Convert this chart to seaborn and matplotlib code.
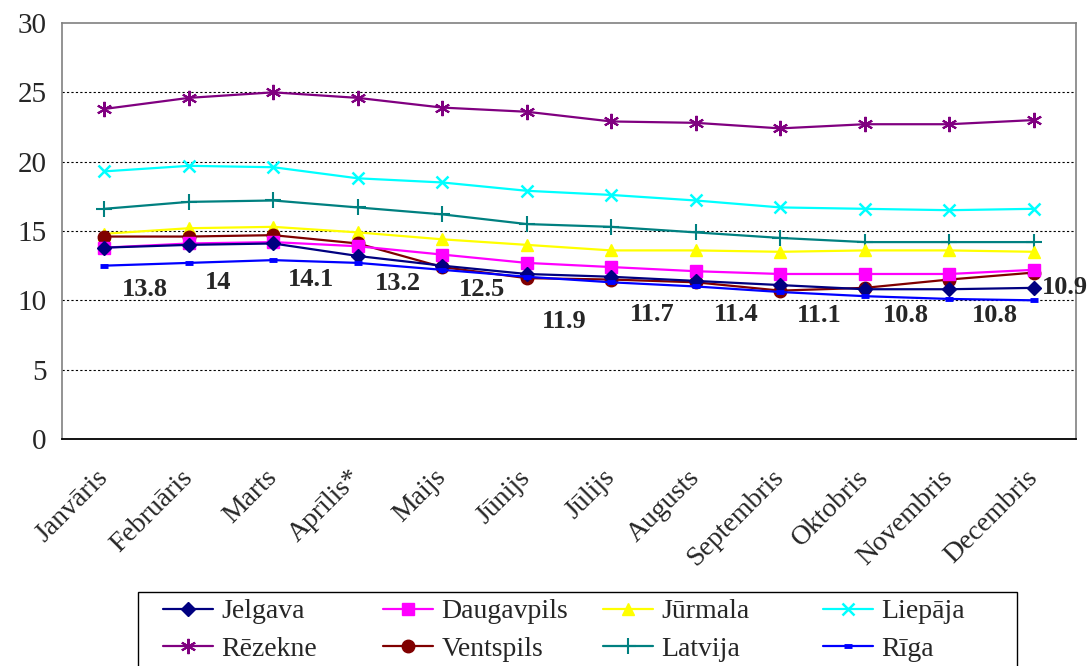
import numpy as np
import pandas as pd
import matplotlib
matplotlib.use("Agg")
import matplotlib.pyplot as plt
import matplotlib.transforms as mtransforms
from matplotlib.patches import Rectangle
import seaborn as sns

months = ["Janvāris", "Februāris", "Marts", "Aprīlis*", "Maijs", "Jūnijs",
          "Jūlijs", "Augusts", "Septembris", "Oktobris", "Novembris", "Decembris"]

jelgava    = [13.8, 14.0, 14.1, 13.2, 12.5, 11.9, 11.7, 11.4, 11.1, 10.8, 10.8, 10.9]
daugavpils = [13.8, 14.1, 14.2, 13.9, 13.3, 12.7, 12.4, 12.1, 11.9, 11.9, 11.9, 12.2]
jurmala    = [14.8, 15.2, 15.3, 14.9, 14.4, 14.0, 13.6, 13.6, 13.5, 13.6, 13.6, 13.5]
liepaja    = [19.3, 19.7, 19.6, 18.8, 18.5, 17.9, 17.6, 17.2, 16.7, 16.6, 16.5, 16.6]
rezekne    = [23.8, 24.6, 25.0, 24.6, 23.9, 23.6, 22.9, 22.8, 22.4, 22.7, 22.7, 23.0]
ventspils  = [14.6, 14.6, 14.7, 14.1, 12.4, 11.6, 11.5, 11.3, 10.7, 10.9, 11.5, 12.0]
latvija    = [16.6, 17.1, 17.2, 16.7, 16.2, 15.5, 15.3, 14.9, 14.5, 14.2, 14.2, 14.2]
riga       = [12.5, 12.7, 12.9, 12.7, 12.2, 11.7, 11.3, 11.0, 10.6, 10.3, 10.1, 10.0]

series_names = ["Jelgava", "Daugavpils", "Jūrmala", "Liepāja",
                "Rēzekne", "Ventspils", "Latvija", "Rīga"]
series_values = [jelgava, daugavpils, jurmala, liepaja, rezekne, ventspils, latvija, riga]

# styling (not data)
styles = {
    "Jelgava":    dict(color="#000080", marker="D", ms=7),
    "Daugavpils": dict(color="#FF00FF", marker="s", ms=8),
    "Jūrmala":    dict(color="#FFFF00", marker="^", ms=9),
    "Liepāja":    dict(color="#00FFFF", marker="x", ms=9, mew=1.8),
    "Rēzekne":    dict(color="#800080", marker=(6, 2, 0), ms=11, mew=1.5),
    "Ventspils":  dict(color="#800000", marker="o", ms=9),
    "Latvija":    dict(color="#008080", marker="+", ms=11, mew=1.5),
    "Rīga":       dict(color="#0000FF", marker="_", ms=6, mew=3.5),
}
draw_order = ["Rēzekne", "Liepāja", "Latvija", "Jūrmala", "Ventspils",
              "Daugavpils", "Jelgava", "Rīga"]
label_offsets_px = [(41, -42), (29, -38), (38, -36), (40, -28), (40, -24), (38, -48),
                    (41, -38), (40, -34), (39, -30), (41, -26), (46, -26), (31, 0)]

sns.set_style("white")
plt.rcParams["font.family"] = ["Liberation Serif", "DejaVu Serif"]

W, H = 1092, 666
fig = plt.figure(figsize=(W / 100, H / 100), dpi=100)
ax = fig.add_axes([62 / W, 1 - 439 / H, (1076 - 62) / W, (439 - 23) / H])

df = pd.DataFrame({"Mēnesis": np.tile(months, len(series_names)),
                   "Vērtība": np.concatenate(series_values),
                   "Pilsēta": np.repeat(series_names, len(months))})

lines = {}
for name in draw_order:
    st = styles[name]
    sub = df[df["Pilsēta"] == name]
    sns.lineplot(data=sub, x="Mēnesis", y="Vērtība", ax=ax, color=st["color"],
                 marker=st["marker"], markersize=st["ms"],
                 markeredgewidth=st.get("mew", 1.0), markeredgecolor=st["color"],
                 linewidth=1.6, sort=False, label=name)
    lines[name] = ax.lines[-1]

ax.get_legend().remove()

ax.set_xlim(-0.5, 11.5)
ax.set_ylim(0, 30)
ax.set_yticks(np.arange(0, 31, 5))
ax.set_xticks(range(len(months)))
ax.set_xticklabels(months, rotation=45, ha="right", va="center",
                   rotation_mode="anchor", fontsize=20)
shift = mtransforms.ScaledTranslation(-6 / 100, 0, fig.dpi_scale_trans)
for lbl in ax.get_xticklabels():
    lbl.set_transform(lbl.get_transform() + shift)
ax.set_xticks(np.arange(-0.5, 12, 1), minor=True)
ax.tick_params(axis="x", which="major", length=0, pad=25)
ax.tick_params(axis="x", which="minor", length=7, color="black", width=1)
ax.tick_params(axis="y", which="major", length=7, color="#808080", width=1, labelsize=21, pad=4)
ax.set_xlabel("")
ax.set_ylabel("")

for y in range(5, 30, 5):
    ax.axhline(y, color="black", linestyle=(0, (2, 2)), linewidth=0.8, zorder=0)

for s in ["left", "top", "right"]:
    ax.spines[s].set_color("#808080")
    ax.spines[s].set_linewidth(1.2)
ax.spines["bottom"].set_color("black")
ax.spines["bottom"].set_linewidth(1.3)

for i, (v, off) in enumerate(zip(jelgava, label_offsets_px)):
    txt = f"{v:g}"
    ax.annotate(txt, xy=(i, v), xytext=off, textcoords="offset pixels",
                ha="center", va="center", fontsize=19, fontweight="bold",
                annotation_clip=False)

# legend: 4 columns x 2 rows inside one frame
legend_cols = [["Jelgava", "Rēzekne"], ["Daugavpils", "Ventspils"],
               ["Jūrmala", "Latvija"], ["Liepāja", "Rīga"]]
col_x = [163, 383, 603, 823]
for names, x in zip(legend_cols, col_x):
    fig.legend([lines[n] for n in names], names, loc="upper left",
               bbox_to_anchor=(x / W, 1 - 599 / H), fontsize=20, frameon=False,
               handlelength=1.8, handletextpad=0.3, borderpad=0,
               labelspacing=0.43, borderaxespad=0)
fig.patches.append(Rectangle((138 / W, -0.05), (1017 - 138) / W, 0.05 + 1 - 592 / H,
                             transform=fig.transFigure, fill=False,
                             edgecolor="black", linewidth=1.0))

fig.savefig("out.png", dpi=100)
